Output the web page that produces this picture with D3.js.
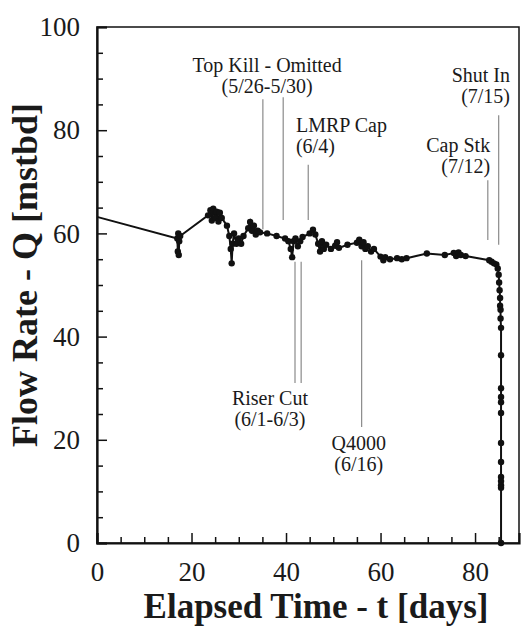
<!DOCTYPE html>
<html>
<head>
<meta charset="utf-8">
<script src="https://cdn.jsdelivr.net/npm/d3@7/dist/d3.min.js"></script>
<style>
  body { margin: 0; background: #fff; }
  text { font-family: 'Liberation Serif', 'Times New Roman', serif; fill: #1a1a1a; }
</style>
</head>
<body>
<div id="chart"></div>
<script>
// elapsed days and flow rate (mstbd)
const days = [
  0, 17.0, 17.1, 17.2, 17.3, 17.4, 17.6,
  23.5, 24.0, 24.3, 24.6, 25.0, 25.3, 25.7, 26.0, 26.4,
  27.5, 28.0, 28.3, 28.5, 28.7, 29.0, 29.5, 30.0, 30.5, 31.0,
  32.0, 32.4, 32.8, 33.2, 33.6, 34.0, 34.5,
  36.0, 38.0, 39.8,
  40.5, 41.0, 41.3, 41.6, 42.0, 42.5, 43.0, 43.5,
  45.0, 45.7, 46.2, 46.8, 47.2, 47.6, 48.0, 48.5, 49.5, 50.4, 50.8, 51.2,
  53.0, 55.0, 55.5, 56.0, 56.4, 56.8, 57.3, 58.0, 58.6,
  60.0, 60.6, 61.0, 62.0, 63.5, 64.5, 65.5,
  69.8, 73.6, 75.5, 76.0, 76.5, 77.0, 78.0,
  83.0, 83.5, 84.0, 84.5, 84.8, 85.0, 85.1, 85.2, 85.3, 85.3, 85.4, 85.4, 85.5,
  85.5, 85.5, 85.5, 85.5, 85.5, 85.5, 85.5, 85.5, 85.5, 85.5, 85.5, 85.5
]
const flowRates = [
  63.2, 59.0, 56.5, 60.0, 55.8, 58.5, 59.5,
  63.5, 64.5, 62.5, 64.8, 63.0, 64.2, 62.3, 64.0, 63.0,
  61.5, 59.5, 57.0, 54.2, 58.0, 60.0, 58.0, 59.0, 58.0, 59.5,
  61.0, 62.2, 60.5, 61.5, 59.8, 60.5, 60.2,
  60.0, 59.5, 59.0,
  58.5, 57.0, 55.4, 58.5, 59.0, 57.5, 58.5, 59.3,
  60.0, 60.7, 59.8, 58.0, 56.5, 58.5, 57.0, 57.8, 57.0, 57.6, 58.3, 57.2,
  57.8, 58.2, 58.8, 57.5, 58.3, 57.0, 57.5, 56.5, 57.0,
  55.5, 54.8, 55.4, 55.0, 55.2, 55.0, 55.2,
  56.1, 55.8, 56.2, 55.6, 56.3, 55.8, 55.6,
  54.8, 54.5, 54.2, 54.0, 53.2, 52.0, 50.5, 49.0, 47.5, 46.0, 45.2, 43.5, 41.7,
  36.4, 30.0, 28.3, 27.3, 25.2, 19.4, 15.7, 12.8, 12.0, 11.2, 10.7, 0
]

const xTickValues = [0, 20, 40, 60, 80]
const yTickValues = [0, 20, 40, 60, 80, 100]

// events marked on the chart
const eventLabels = ['Top Kill - Omitted', 'LMRP Cap', 'Riser Cut', 'Q4000', 'Cap Stk', 'Shut In']
const eventDates = ['(5/26-5/30)', '(6/4)', '(6/1-6/3)', '(6/16)', '(7/12)', '(7/15)']
const eventDays = [[35.1, 39.4], [44.7], [41.9, 43.2], [56.0], [82.7], [85.0]]

// where each event's marker lines and text sit (in data units)
const eventLayout = [
  { lines: [[86, 60.8], [86.4, 62.6]], x: 36.0, y: 91.3, anchor: 'middle' },
  { lines: [[73.3, 62.6]], x: 42.1, y: 79.7, anchor: 'start' },
  { lines: [[54.5, 31], [54.5, 31]], x: 36.6, y: 26.7, anchor: 'middle' },
  { lines: [[54.8, 22.5]], x: 55.4, y: 18.0, anchor: 'middle' },
  { lines: [[70.3, 58.7]], x: 83.2, y: 75.8, anchor: 'end' },
  { lines: [[82.9, 57.8]], x: 87.4, y: 89.3, anchor: 'end' }
]

const margin = { top: 27, left: 97, right: 4, bottom: 83 }
const width = 523 - margin.left - margin.right
const height = 626 - margin.top - margin.bottom

const svg = d3
  .select('#chart')
  .append('svg')
  .attr('width', width + margin.left + margin.right)
  .attr('height', height + margin.top + margin.bottom)
  .append('g')
  .attr('transform', 'translate(' + margin.left + ',' + margin.top + ')')

const xPositionScale = d3.scaleLinear().domain([0, 89.3]).range([0, width])
const yPositionScale = d3.scaleLinear().domain([0, 100]).range([height, 0])

// event lines
eventDays.forEach(function(ds, i) {
  const layout = eventLayout[i]
  ds.forEach(function(d, j) {
    const ext = layout.lines[j]
    svg
      .append('line')
      .attr('x1', xPositionScale(d))
      .attr('x2', xPositionScale(d))
      .attr('y1', yPositionScale(ext[0]))
      .attr('y2', yPositionScale(ext[1]))
      .attr('stroke', '#8a8a8a')
      .attr('stroke-width', 1.2)
  })
  svg
    .append('text')
    .text(eventLabels[i])
    .attr('x', xPositionScale(layout.x))
    .attr('y', yPositionScale(layout.y))
    .attr('text-anchor', layout.anchor)
    .attr('font-size', 20)
  svg
    .append('text')
    .text(eventDates[i])
    .attr('x', xPositionScale(layout.x))
    .attr('y', yPositionScale(layout.y) + 21)
    .attr('text-anchor', layout.anchor)
    .attr('font-size', 20)
})

const datapoints = days.map(function(d, i) {
  return { day: d, q: flowRates[i] }
})

const line = d3
  .line()
  .x(d => xPositionScale(d.day))
  .y(d => yPositionScale(d.q))

svg
  .append('path')
  .datum(datapoints)
  .attr('d', line)
  .attr('stroke', '#111')
  .attr('stroke-width', 2)
  .attr('fill', 'none')

svg
  .selectAll('.pt')
  .data(datapoints.slice(1))
  .enter()
  .append('circle')
  .attr('class', 'pt')
  .attr('r', 3.2)
  .attr('cx', d => xPositionScale(d.day))
  .attr('cy', d => yPositionScale(d.q))
  .attr('fill', '#111')

// frame
svg
  .append('rect')
  .attr('width', width)
  .attr('height', height)
  .attr('fill', 'none')
  .attr('stroke', '#111')
  .attr('stroke-width', 1.5)

// minor ticks
const minorX = d3.range(5, 90, 5).filter(v => v % 20 !== 0)
const minorY = d3.range(5, 100, 5).filter(v => v % 20 !== 0)
svg
  .append('g')
  .attr('class', 'axis minor')
  .attr('transform', 'translate(0,' + height + ')')
  .call(d3.axisBottom(xPositionScale).tickValues(minorX).tickSize(-6).tickFormat(''))
svg
  .append('g')
  .attr('class', 'axis minor')
  .call(d3.axisLeft(yPositionScale).tickValues(minorY).tickSize(-6).tickFormat(''))

const xAxis = d3
  .axisBottom(xPositionScale)
  .tickValues(xTickValues)
  .tickSize(-10)
  .tickPadding(19)
svg
  .append('g')
  .attr('class', 'axis x-axis')
  .attr('transform', 'translate(0,' + height + ')')
  .call(xAxis)

const yAxis = d3
  .axisLeft(yPositionScale)
  .tickValues(yTickValues)
  .tickSize(-10)
  .tickPadding(17)
svg
  .append('g')
  .attr('class', 'axis y-axis')
  .call(yAxis)

svg.selectAll('.minor path').remove()
svg.selectAll('.axis line').attr('stroke', '#111').attr('stroke-width', 1.5)
svg.selectAll('.axis path').attr('stroke', '#111').attr('stroke-width', 2.2)
svg
  .selectAll('.x-axis text, .y-axis text')
  .attr('font-size', 27)
  .attr('font-family', "'Liberation Serif', 'Times New Roman', serif")
  .attr('fill', '#1a1a1a')

svg
  .append('text')
  .text('Elapsed Time - t [days]')
  .attr('x', 316 - margin.left)
  .attr('y', height + 75)
  .attr('text-anchor', 'middle')
  .attr('font-size', 35)
  .attr('font-weight', 'bold')

svg
  .append('text')
  .text('Flow Rate - Q [mstbd]')
  .attr('transform', 'translate(' + (37 - margin.left) + ',' + (275 - margin.top) + ') rotate(-90)')
  .attr('text-anchor', 'middle')
  .attr('font-size', 36)
  .attr('font-weight', 'bold')
</script>
</body>
</html>
